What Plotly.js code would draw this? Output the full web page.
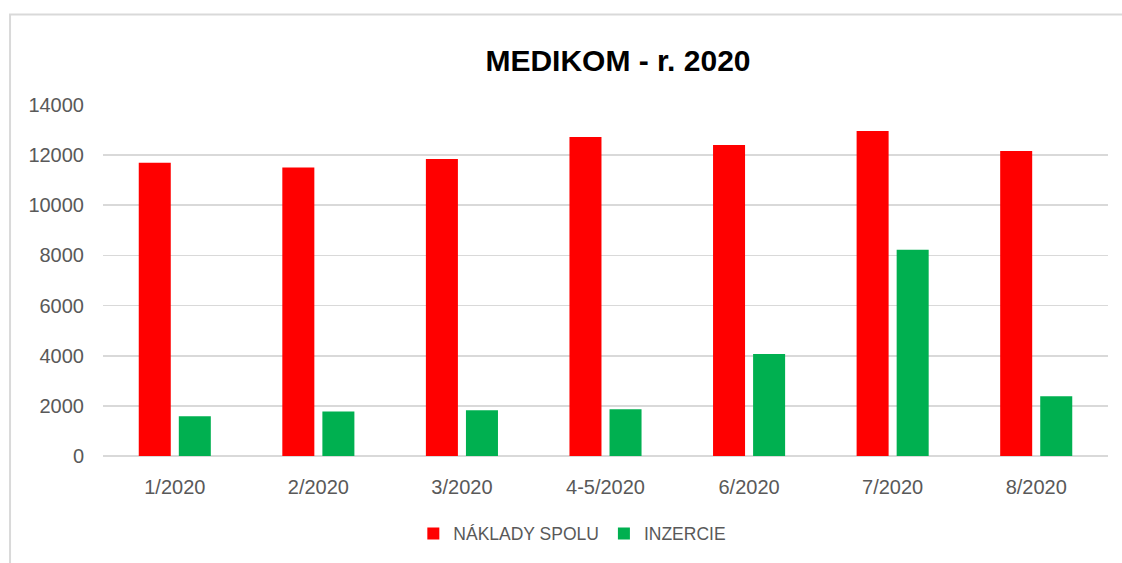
<!DOCTYPE html>
<html>
<head>
<meta charset="utf-8">
<script src="https://cdn.plot.ly/plotly-3.0.1.min.js"></script>
<style>html,body{margin:0;padding:0;background:#fff;}#chart{width:1122px;height:563px;}</style>
</head>
<body>
<div id="chart"></div>
<script>
const categories = ["1/2020", "2/2020", "3/2020", "4-5/2020", "6/2020", "7/2020", "8/2020"];
const nakladySpolu = [11700, 11510, 11850, 12720, 12400, 12960, 12170];
const inzercie = [1590, 1770, 1820, 1860, 4070, 8230, 2380];
const seriesNames = ["NÁKLADY SPOLU", "INZERCIE"];
const yTicks = [0, 2000, 4000, 6000, 8000, 10000, 12000, 14000];

const FONT = "Liberation Sans, Arial, sans-serif";
const traces = [
  {type: "bar", x: categories, y: nakladySpolu, name: seriesNames[0],
   marker: {color: "#FF0000"}, width: 0.223, offset: -0.251, hoverinfo: "x+y"},
  {type: "bar", x: categories, y: inzercie, name: seriesNames[1],
   marker: {color: "#00B050"}, width: 0.223, offset: 0.028, hoverinfo: "x+y"}
];

const layout = {
  width: 1122, height: 563,
  margin: {l: 103, r: 14, t: 105, b: 105},
  paper_bgcolor: "#ffffff", plot_bgcolor: "#ffffff",
  font: {family: FONT, color: "#595959", size: 20},
  title: {text: "<b>MEDIKOM - r. 2020</b>", font: {family: FONT, size: 30, color: "#000000"},
          x: 0.5124, xanchor: "center", xref: "paper", y: 0.892, yanchor: "middle", yref: "container"},
  barmode: "group",
  showlegend: true,
  legend: {orientation: "h", x: 0.467, xanchor: "center", y: -0.221, yanchor: "middle",
           font: {family: FONT, size: 17.5, color: "#595959"}, itemwidth: 30, traceorder: "normal"},
  xaxis: {type: "category", showgrid: false, showline: false, zeroline: false, ticks: "",
          ticklabelstandoff: 17, automargin: false,
          tickfont: {family: FONT, size: 20, color: "#595959"}, fixedrange: true},
  yaxis: {range: [0, 14000], tickvals: yTicks, ticktext: yTicks.map(String), showgrid: true,
          gridcolor: "#d9d9d9", gridwidth: 1.6, zeroline: true, zerolinecolor: "#d9d9d9", zerolinewidth: 1.6,
          showline: false, ticks: "", ticklabelstandoff: 18, automargin: false,
          tickfont: {family: FONT, size: 20, color: "#595959"}, fixedrange: true},
  shapes: [{type: "rect", xref: "paper", yref: "paper", x0: -0.0925, x1: 1.05, y0: -0.32, y1: 1.2578,
            line: {color: "#d9d9d9", width: 2}, fillcolor: "rgba(0,0,0,0)", layer: "below"}]
};

Plotly.newPlot("chart", traces, layout, {displayModeBar: false, staticPlot: true});
</script>
</body>
</html>
